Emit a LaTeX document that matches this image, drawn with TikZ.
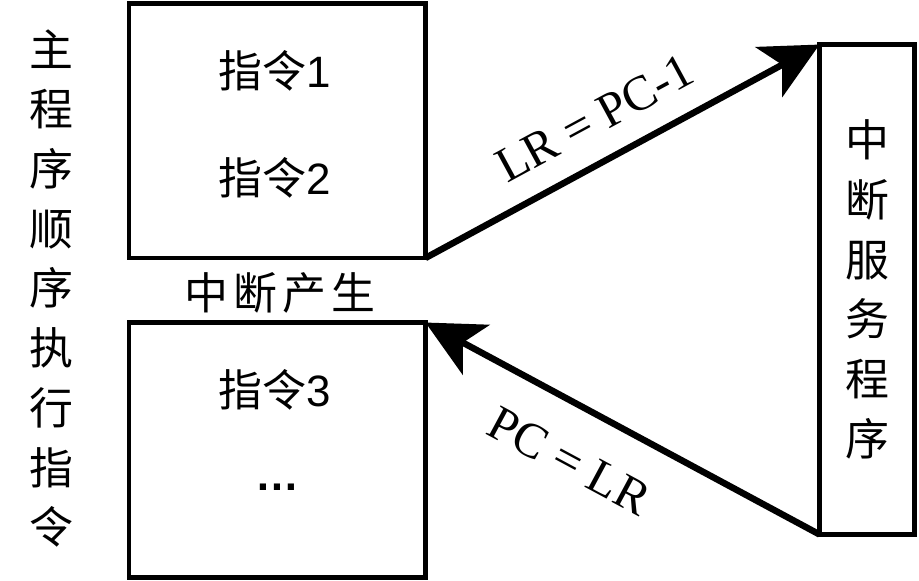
\documentclass[tikz,border=0pt]{standalone}
\usepackage{fontspec}
\setmainfont{Liberation Serif}
\newfontfamily\cjk{Noto Sans CJK SC}
\newfontfamily\arial{Liberation Sans}
\usetikzlibrary{arrows.meta}

\begin{document}
\begin{tikzpicture}[
        x=0.02cm, y=-0.02cm,
        caixa/.style={draw,line width=2.8pt,outer sep=0pt,inner sep=0pt},
        seta/.style={-{Stealth[length=1.15cm,width=1.13cm,inset=0.3cm]},line width=3.7pt},
        zi/.style={font=\cjk\fontsize{25}{34}\selectfont,align=center,inner sep=0pt},
        instr/.style={font=\arial\fontsize{25}{30}\selectfont,inner sep=0pt},
        rotulo/.style={font=\fontsize{28}{30}\selectfont,sloped,inner sep=0pt}
    ]
        \useasboundingbox (0,0) rectangle (919,581);

        \node[caixa,minimum width=5.93cm,minimum height=5.09cm] (prog1) at (277.25,130.75) {};
        \node[caixa,minimum width=5.93cm,minimum height=5.1cm] (prog2) at (277.25,450) {};
        \node[caixa,zi,minimum width=1.9cm,minimum height=9.8cm] (isr) at (867,289.5) {中\\断\\服\\务\\程\\序};

        \node[zi] (main) at (51,288.5) {主\\程\\序\\顺\\序\\执\\行\\指\\令};
        \node[zi] (irq) at (280,293) {中\hspace{3pt}断\hspace{3pt}产\hspace{3pt}生};
        \node[instr] (i1) at (275,71) {{\cjk 指令}1};
        \node[instr] (i2) at (275,178) {{\cjk 指令}2};
        \node[instr] (i3) at (275,390) {{\cjk 指令}3};
        \node[instr,font=\arial\bfseries\fontsize{25}{30}\selectfont] (more) at (277,487) {…};

        \draw[seta] (prog1.south east) -- node[rotulo,above=0.45cm,pos=0.48]{LR = PC-1} (isr.north west);
        \draw[seta] (isr.south west) -- node[rotulo,below=0.68cm,pos=0.57]{PC = LR} (prog2.north east);
\end{tikzpicture}
\end{document}
